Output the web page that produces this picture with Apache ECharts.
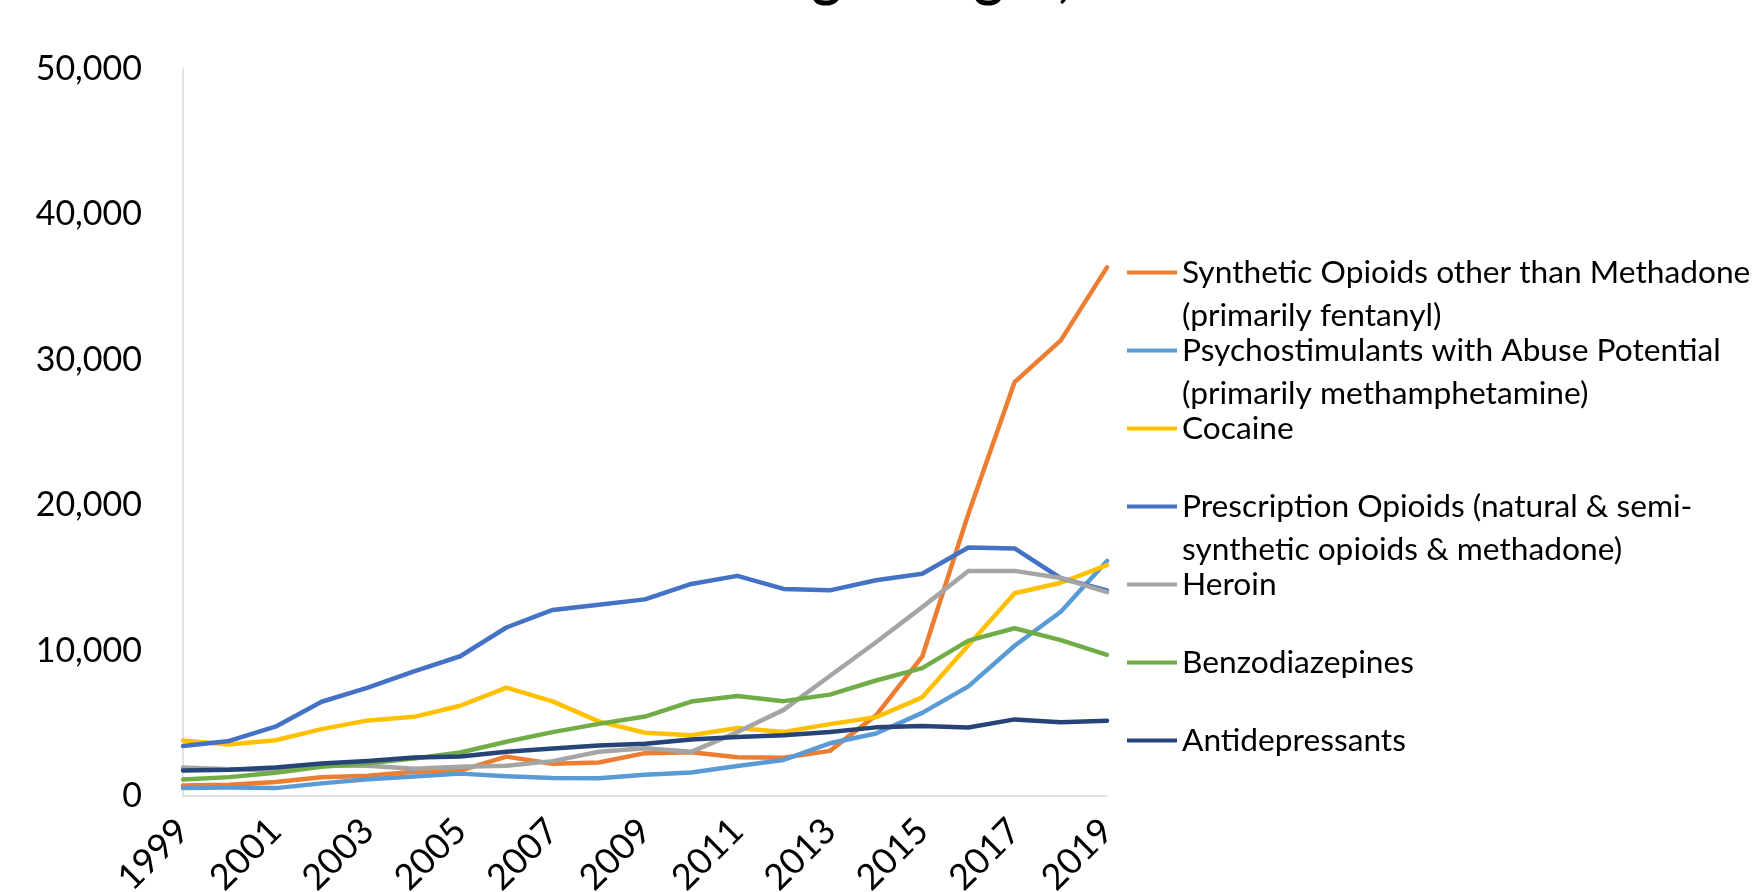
<!DOCTYPE html>
<html>
<head>
<meta charset="utf-8">
<script src="https://cdn.jsdelivr.net/npm/echarts@6/dist/echarts.min.js"></script>
<style>
  html, body { margin: 0; padding: 0; background: #ffffff; }
  #chart { width: 1752px; height: 892px; }
</style>
</head>
<body>
<div id="chart"></div>
<script>
// Overdose deaths by drug category, all ages, 1999-2019
const years = ['1999','2000','2001','2002','2003','2004','2005','2006','2007','2008','2009',
               '2010','2011','2012','2013','2014','2015','2016','2017','2018','2019'];

// Legend captions, one array of display lines per series
const syntheticLabel = ['Synthetic Opioids other than Methadone', '(primarily fentanyl)'];
const psychoLabel = ['Psychostimulants with Abuse Potential', '(primarily methamphetamine)'];
const cocaineLabel = ['Cocaine'];
const prescriptionLabel = ['Prescription Opioids (natural & semi-', 'synthetic opioids & methadone)'];
const heroinLabel = ['Heroin'];
const benzoLabel = ['Benzodiazepines'];
const antidepLabel = ['Antidepressants'];

const synthetic = [730, 782, 957, 1295, 1400, 1664, 1742, 2707, 2213, 2306, 2946,
                   3007, 2666, 2628, 3105, 5544, 9580, 19413, 28466, 31335, 36359];
const psycho = [547, 578, 542, 868, 1146, 1342, 1539, 1356, 1238, 1224, 1466,
                1617, 2062, 2479, 3627, 4298, 5716, 7542, 10333, 12676, 16167];
const cocaine = [3822, 3544, 3833, 4599, 5199, 5443, 6208, 7448, 6512, 5129, 4350,
                 4183, 4681, 4404, 4944, 5415, 6784, 10375, 13942, 14666, 15883];
const prescription = [3442, 3785, 4770, 6482, 7456, 8577, 9612, 11589, 12796, 13149, 13523,
                      14583, 15140, 14240, 14145, 14838, 15281, 17087, 17029, 14975, 14139];
const heroin = [1960, 1842, 1779, 2089, 2080, 1878, 2009, 2088, 2399, 3041, 3278,
                3036, 4397, 5925, 8257, 10574, 12989, 15469, 15482, 14996, 14019];
const benzo = [1135, 1298, 1594, 2004, 2248, 2585, 2991, 3729, 4394, 4959, 5465,
               6497, 6872, 6524, 6973, 7945, 8791, 10684, 11537, 10724, 9711];
const antidep = [1749, 1802, 1965, 2234, 2408, 2647, 2721, 3039, 3273, 3467, 3591,
                 3889, 4051, 4170, 4404, 4720, 4808, 4713, 5269, 5064, 5176];

const yTicks = { min: 0, max: 50000, interval: 10000 };

const seriesDefs = [
  { label: syntheticLabel, data: synthetic, color: '#ED7D31' },
  { label: psychoLabel, data: psycho, color: '#5B9BD5' },
  { label: cocaineLabel, data: cocaine, color: '#FFC000' },
  { label: prescriptionLabel, data: prescription, color: '#4472C4' },
  { label: heroinLabel, data: heroin, color: '#A5A5A5' },
  { label: benzoLabel, data: benzo, color: '#70AD47' },
  { label: antidepLabel, data: antidep, color: '#264478' }
];

// Series name is the caption in one line; a hyphen at a line end joins without a space
function joinLines(lines) {
  return lines.reduce((acc, l, i) => i === 0 ? l : (acc.endsWith('-') ? acc + l : acc + ' ' + l), '');
}
const captionByName = {};
seriesDefs.forEach(d => { d.name = joinLines(d.label); captionByName[d.name] = d.label; });

const FONT = 'Lato, "Open Sans", sans-serif';

const chart = echarts.init(document.getElementById('chart'), null, { renderer: 'canvas' });
chart.setOption({
  backgroundColor: '#ffffff',
  animation: false,
  title: {
    text: 'National Drug-Involved Overdose Deaths,\nNumber Among All Ages, 1999-2019',
    left: 440,
    top: -126,
    textStyle: { fontFamily: FONT, fontSize: 56, fontWeight: 'bold', color: '#000000', lineHeight: 66 }
  },
  grid: { left: 183, right: 645, top: 69, bottom: 96, containLabel: false, outerBoundsMode: 'none' },
  legend: {
    orient: 'vertical',
    left: 1127,
    top: 208,
    padding: 0,
    itemGap: -51,
    itemWidth: 50,
    itemHeight: 4,
    icon: 'rect',
    selectedMode: false,
    data: seriesDefs.map(d => d.name),
    // first line sits level with the key line, a second line hangs below it
    formatter: name => {
      const lines = captionByName[name];
      return '\n' + lines[0] + '\n' + (lines[1] || '');
    },
    textStyle: { fontFamily: FONT, fontSize: 31.7, lineHeight: 43, color: '#000000' }
  },
  xAxis: {
    type: 'category',
    data: years,
    boundaryGap: false,
    axisLine: { show: true, lineStyle: { color: '#d9d9d9', width: 1.5 } },
    axisTick: { show: false },
    axisLabel: {
      interval: 1,
      rotate: 45,
      margin: 29,
      fontFamily: FONT,
      fontSize: 36,
      color: '#000000'
    },
    splitLine: { show: false }
  },
  yAxis: {
    type: 'value',
    min: yTicks.min,
    max: yTicks.max,
    interval: yTicks.interval,
    axisLine: { show: true, lineStyle: { color: '#d9d9d9', width: 1.5 } },
    axisTick: { show: false },
    axisLabel: { margin: 41, fontFamily: FONT, fontSize: 34, color: '#000000' },
    splitLine: { show: false }
  },
  series: seriesDefs.map(d => ({
    name: d.name,
    type: 'line',
    data: d.data,
    color: d.color,
    showSymbol: false,
    symbol: 'none',
    lineStyle: { color: d.color, width: 4.5, cap: 'round', join: 'round' },
    emphasis: { disabled: true }
  }))
});
</script>
</body>
</html>
